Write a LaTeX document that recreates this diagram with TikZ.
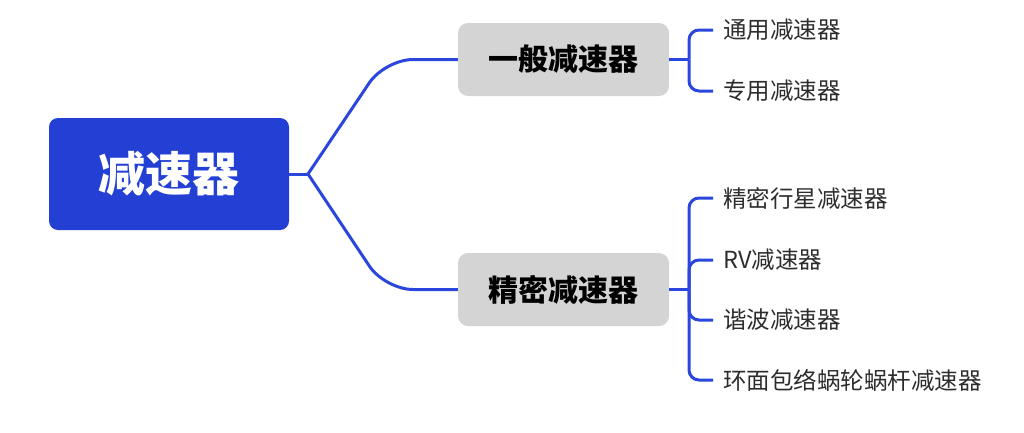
\documentclass[tikz,border=0pt]{standalone}
\usepackage{fontspec}
\usepackage{tikz}
\usetikzlibrary{positioning}
\newfontfamily\cjk{Noto Sans CJK SC}
\definecolor{rootblue}{RGB}{36,64,212}
\definecolor{lineblue}{RGB}{42,70,220}
\definecolor{boxgray}{RGB}{212,212,212}
\definecolor{leafgray}{RGB}{45,45,45}

\begin{document}
\begin{tikzpicture}[x=1pt,y=-1pt,
    root/.style={fill=rootblue,rounded corners=9pt,minimum width=240pt,minimum height=112pt,text=white,font=\cjk\bfseries\fontsize{47}{50}\selectfont},
    cat/.style={fill=boxgray,rounded corners=10pt,minimum width=211pt,minimum height=73pt,font=\cjk\bfseries\fontsize{30}{34}\selectfont},
    leaf/.style={anchor=west,inner xsep=10pt,inner ysep=0pt,text=leafgray,font=\cjk\fontsize{23.5}{26}\selectfont},
    link/.style={draw=lineblue,line width=3pt,rounded corners=28pt},
    brace/.style={draw=lineblue,line width=3pt,rounded corners=10pt}]
  \useasboundingbox (0,0) rectangle (1024,432);
  \node[root] (reducer) at (169,174) {减速器};
  \node[cat] (general) at (563.5,59.5) {一般减速器};
  \node[cat] (precise) at (563.5,289.5) {精密减速器};
  \node[leaf] (universal) at (713,30) {通用减速器};
  \node[leaf] (special) at (713,91) {专用减速器};
  \node[leaf] (planetary) at (713,198) {精密行星减速器};
  \node[leaf] (rv) at (713,260) {RV减速器};
  \node[leaf] (harmonic) at (713,320) {谐波减速器};
  \node[leaf] (worm) at (713,380) {环面包络蜗轮蜗杆减速器};
  \coordinate (split) at (308,174);
  \coordinate (gsplit) at (689,59.5);
  \coordinate (psplit) at (689,289.5);
  \draw[link] (reducer.east) -- (split);
  \draw[link] (split) -- (385,59.5) -- (general.west);
  \draw[link] (split) -- (385,289.5) -- (precise.west);
  \draw[link] (general.east) -- (gsplit);
  \draw[link] (precise.east) -- (psplit);
  \foreach \leafname in {universal,special}
    \draw[brace] (gsplit) |- (\leafname.west);
  \foreach \leafname in {planetary,rv,harmonic,worm}
    \draw[brace] (psplit) |- (\leafname.west);
\end{tikzpicture}
\end{document}
